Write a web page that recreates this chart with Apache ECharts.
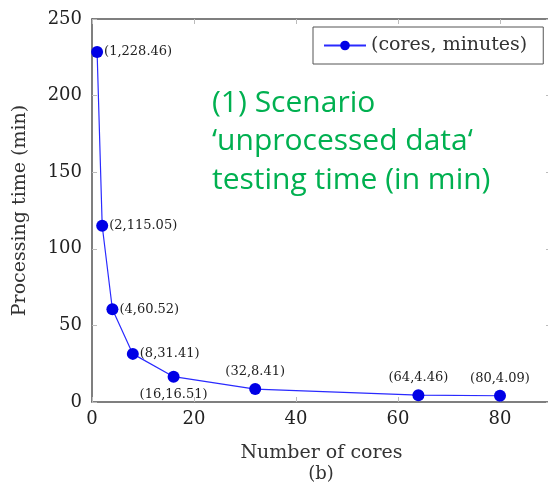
<!DOCTYPE html>
<html><head><meta charset="utf-8">
<script src="https://cdn.jsdelivr.net/npm/echarts@6/dist/echarts.min.js"></script>
<style>html,body{margin:0;padding:0;background:#fff}#c{width:548px;height:484px}</style>
</head><body><div id="c"></div>
<script>
const cores = [1, 2, 4, 8, 16, 32, 64, 80];
const minutes = [228.46, 115.05, 60.52, 31.41, 16.51, 8.41, 4.46, 4.09];
const xTicks = [0, 20, 40, 60, 80];
const yTicks = [0, 50, 100, 150, 200, 250];
const seriesName = '(cores, minutes)';
const xName = 'Number of cores';
const yName = 'Processing time (min)';
const caption = '(b)';
const noteLines = ['(1) Scenario', '\u2018unprocessed data\u2018', 'testing time (in min)'];

const serif = 'DejaVu Serif';
const labelPos = {
  1: 'right', 2: 'right', 4: 'right', 8: 'right',
  16: 'bottom', 32: 'top', 64: 'top', 80: 'top'
};
const data = cores.map((c, i) => ({
  value: [c, minutes[i]],
  label: {show: true, formatter: '(' + c + ',' + minutes[i] + ')', position: labelPos[c],
    distance: labelPos[c] === 'right' ? 1 : 5}
}));

const chart = echarts.init(document.getElementById('c'), null, {renderer: 'canvas'});
const axisCommon = {
  axisLine: {show: true, onZero: false, lineStyle: {color: '#555', width: 1.5}},
  axisTick: {show: true, inside: true, length: 5, lineStyle: {color: '#bbb'}},
  splitLine: {show: false}
};
chart.setOption({
  animation: false,
  grid: {left: 92, top: 19, width: 459, height: 383, containLabel: false, outerBoundsMode: 'none'},
  legend: {
    left: 313, top: 27, padding: [9, 16, 9, 10],
    borderColor: '#555', borderWidth: 1,
    itemWidth: 42, itemHeight: 12, itemGap: 6,
    textStyle: {fontFamily: serif, fontSize: 19, color: '#333'},
    data: [seriesName]
  },
  xAxis: [
    Object.assign({}, axisCommon, {
      type: 'value', min: 0, max: 90, interval: 20, position: 'bottom',
      name: xName, nameLocation: 'middle', nameGap: 42,
      nameTextStyle: {fontFamily: serif, fontSize: 19, color: '#333'},
      axisLabel: {fontFamily: serif, fontSize: 18, color: '#222', margin: 8,
        formatter: v => xTicks.includes(v) ? String(v) : ''}
    }),
    Object.assign({}, axisCommon, {
      type: 'value', min: 0, max: 90, interval: 20, position: 'top',
      axisLabel: {show: false}
    })
  ],
  yAxis: [
    Object.assign({}, axisCommon, {
      type: 'value', min: 0, max: 250, interval: 50, position: 'left',
      name: yName, nameLocation: 'middle', nameGap: 62,
      nameTextStyle: {fontFamily: serif, fontSize: 19, color: '#333'},
      axisLabel: {fontFamily: serif, fontSize: 18, color: '#222', margin: 10,
        formatter: v => yTicks.includes(v) ? String(v) : ''}
    }),
    Object.assign({}, axisCommon, {
      type: 'value', min: 0, max: 250, interval: 50, position: 'right',
      axisLabel: {show: false}
    })
  ],
  series: [{
    name: seriesName, type: 'line', xAxisIndex: 0, yAxisIndex: 0,
    data: data,
    symbol: 'circle', symbolSize: 12,
    lineStyle: {color: '#2a2aff', width: 1.2},
    itemStyle: {color: '#0000e6'},
    label: {fontFamily: serif, fontSize: 13, color: '#222'}
  }],
  graphic: noteLines.map((t, i) => ({
    type: 'text', x: 212, y: [103, 141, 180][i],
    style: {text: t, fill: '#00b050', font: '30px "Open Sans"', verticalAlign: 'middle'}
  })).concat([{
    type: 'text', x: 321, y: 474,
    style: {text: caption, fill: '#333', font: '18px "DejaVu Serif"', align: 'center', verticalAlign: 'middle'}
  }])
});
</script></body></html>
